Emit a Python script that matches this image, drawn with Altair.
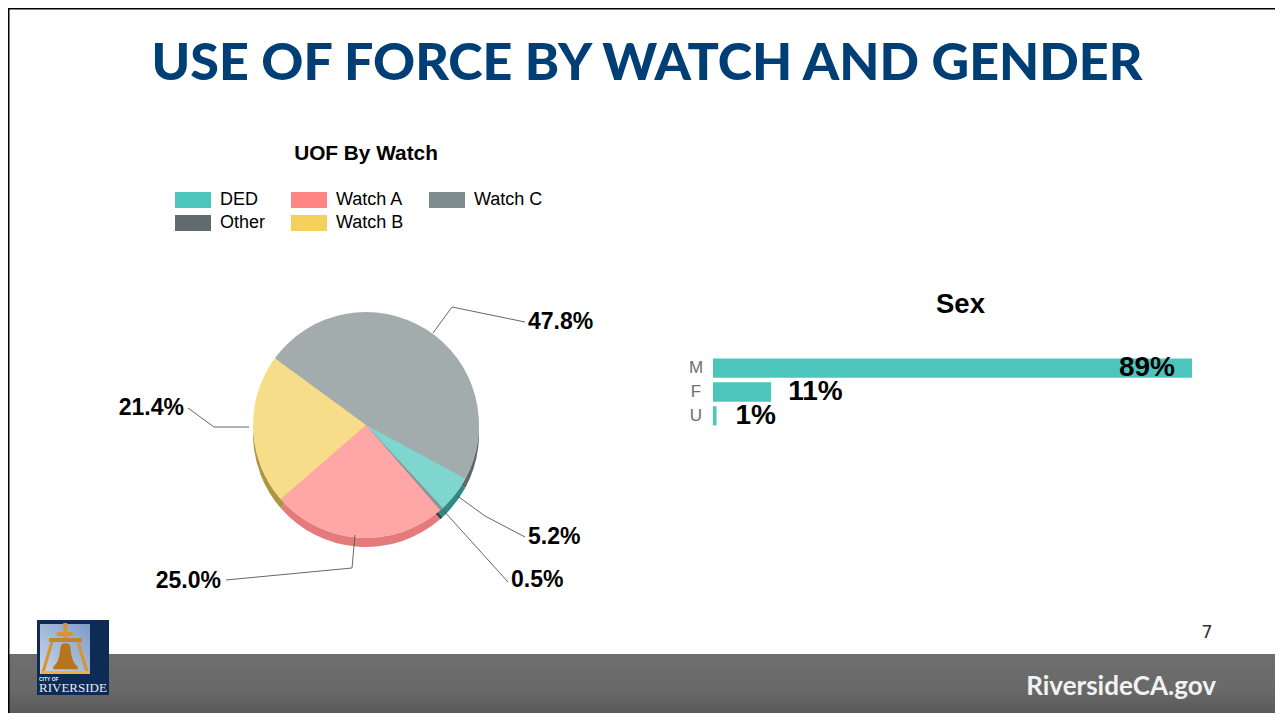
import math
import altair as alt
import pandas as pd

# ---- data ----
pie_names = ["Watch C", "DED", "Other", "Watch A", "Watch B"]
pie_values = [47.8, 5.2, 0.5, 25.0, 21.4]
pie_labels = ["47.8%", "5.2%", "0.5%", "25.0%", "21.4%"]
legend_order = ["DED", "Other", "Watch A", "Watch B", "Watch C"]
legend_colors = ["#4CC6BC", "#5F6B6D", "#FF8484", "#F4D05C", "#7F8C8D"]
depth_colors = {"Watch C": "#5F6768", "DED": "#2F8A84", "Other": "#3E4748",
                "Watch A": "#E57A7A", "Watch B": "#AD9640"}
sex_names = ["M", "F", "U"]
sex_values = [89, 10.8, 0.65]
sex_labels = ["89%", "11%", "1%"]

OX, OY = 8, 8  # page margin
one = pd.DataFrame({"k": [0]})
pie = pd.DataFrame({"name": pie_names, "value": pie_values, "ord": range(5),
                    "depth": [depth_colors[n] for n in pie_names]})
sex = pd.DataFrame({"name": sex_names, "value": sex_values, "label": sex_labels})


def px(v):
    return alt.value(v - OX)


def py(v):
    return alt.value(v - OY)


def box(x0, y0, x1, y1, color):
    return alt.Chart(one).mark_rect(color=color).encode(x=px(x0), x2=px(x1), y=py(y0), y2=py(y1))


def seg(a, b, color="#555555", w=0.9):
    return alt.Chart(one).mark_rule(color=color, strokeWidth=w).encode(
        x=px(a[0]), y=py(a[1]), x2=px(b[0]), y2=py(b[1]))


def label(t, x, y, size, font="Liberation Sans", weight="normal", color="#000000", align="left"):
    return alt.Chart(one).mark_text(text=t, font=font, fontSize=size, fontWeight=weight,
                                    color=color, align=align, baseline="middle").encode(x=px(x), y=py(y))


layers = []

# footer
footer_grad = alt.LinearGradient(gradient="linear", x1=0, x2=0, y1=0, y2=1, stops=[
    alt.GradientStop(offset=0, color="#6E6E6E"),
    alt.GradientStop(offset=0.6, color="#696969"),
    alt.GradientStop(offset=1, color="#5A5A5A")])
layers.append(alt.Chart(one).mark_rect(color=footer_grad).encode(
    x=px(8), x2=px(1275), y=py(654), y2=py(713)))
layers.append(box(8, 8, 9.5, 713, "#000000"))
layers.append(box(8, 8, 1275, 9.5, "#000000"))

# headings
layers.append(label("USE OF FORCE BY WATCH AND GENDER", 647, 64, 52, font="Lato", weight=900,
                    color="#003F75", align="center"))
layers.append(label("UOF By Watch", 366, 154, 20.8, weight="bold", align="center"))
layers.append(label("Sex", 960.5, 305, 27.5, weight="bold", align="center"))
layers.append(label("7", 1207, 633, 18, font="DejaVu Sans", color="#333333", align="center"))
layers.append(label("RiversideCA.gov", 1216, 687, 26, font="Lato", weight="bold",
                    color="#F2F2F2", align="right"))

# pie
start = math.radians(-53.8)
theta = alt.Theta("value:Q", stack=True,
                  scale=alt.Scale(domain=[0, sum(pie_values)], range=[start, start + 2 * math.pi]))
PCX, PCY, R, DEPTH = 366, 425, 113, 9
layers.append(alt.Chart(pie).mark_arc(radius=R).encode(
    theta=theta, order=alt.Order("ord:Q"), x=px(PCX), y=py(PCY + DEPTH),
    fill=alt.Fill("depth:N", scale=None)))
layers.append(alt.Chart(pie).mark_arc(radius=R, color="#FFFFFF").encode(
    theta=theta, order=alt.Order("ord:Q"), x=px(PCX), y=py(PCY)))
layers.append(alt.Chart(pie).mark_arc(radius=R, opacity=0.72).encode(
    theta=theta, order=alt.Order("ord:Q"), x=px(PCX), y=py(PCY),
    color=alt.Color("name:N", scale=alt.Scale(domain=legend_order, range=legend_colors),
                    legend=alt.Legend(orient="none", legendX=175 - OX, legendY=190 - OY, columns=3,
                                      title=None, symbolType="M-1,-0.444H1V0.444H-1Z", symbolSize=1296,
                                      symbolOpacity=1, symbolStrokeWidth=0, clipHeight=20, rowPadding=3,
                                      columnPadding=25, labelFont="Liberation Sans", labelFontSize=18,
                                      labelColor="#000000", labelOffset=9, gridAlign="each"))))

# leader lines
leaders = [
    [(433, 333), (452, 307), (525, 322)],
    [(457.5, 496), (485, 516), (525, 537)],
    [(443, 510), (508, 582)],
    [(355, 535), (352, 568), (226, 580)],
    [(249, 427), (214, 427), (188, 408)],
]
for pts in leaders:
    for a, b in zip(pts, pts[1:]):
        layers.append(seg(a, b))

pie_label_pos = [(528, 322, "left"), (528, 537, "left"), (511, 580, "left"),
                 (221, 581, "right"), (184, 408, "right")]
for t, (x, y, al) in zip(pie_labels, pie_label_pos):
    layers.append(label(t, x, y, 23, weight="bold", align=al))

# bars
xs = alt.Scale(domain=[0, 89], range=[713 - OX, 1192 - OX])
ys = alt.Scale(domain=sex_names, range=[358.5 - OY, 425.5 - OY], paddingInner=0.19, paddingOuter=0)
layers.append(alt.Chart(sex).mark_bar(color="#4CC6BC").encode(
    x=alt.X("value:Q", scale=xs, axis=None),
    y=alt.Y("name:N", scale=ys, sort=sex_names, axis=None)))
txt = alt.Chart(sex).encode(x=alt.X("value:Q", scale=xs, axis=None),
                            y=alt.Y("name:N", scale=ys, sort=sex_names, axis=None),
                            text="label:N")
layers.append(txt.transform_filter("datum.name == 'M'").mark_text(
    align="right", dx=-17, font="Liberation Sans", fontWeight="bold", fontSize=28, color="#000000"))
layers.append(txt.transform_filter("datum.name == 'F'").mark_text(
    align="left", dx=17, font="Liberation Sans", fontWeight="bold", fontSize=28, color="#000000"))
layers.append(txt.transform_filter("datum.name == 'U'").mark_text(
    align="left", dx=19, font="Liberation Sans", fontWeight="bold", fontSize=28, color="#000000"))
layers.append(alt.Chart(sex).mark_text(
    align="center", font="Liberation Sans", fontSize=17, color="#6E6E6E").encode(
    x=px(696), y=alt.Y("name:N", scale=ys, sort=sex_names, axis=None), text="name:N"))

# city logo
layers.append(box(37, 620, 109, 695, "#0D2B55"))
blue = alt.LinearGradient(gradient="linear", x1=1, x2=0, y1=0, y2=1, stops=[
    alt.GradientStop(offset=0, color="#7E9CC8"), alt.GradientStop(offset=1, color="#C9D6EA")])
layers.append(alt.Chart(one).mark_rect(color=blue).encode(x=px(40), x2=px(90), y=py(624), y2=py(674)))
GOLD = "#D9952B"
layers.append(box(63.3, 623, 67.3, 640, GOLD))
layers.append(box(57, 632, 73, 636, GOLD))
layers.append(box(49, 638, 82, 642, "#C4842A"))
layers.append(seg((52, 642), (43, 672), color=GOLD, w=3))
layers.append(seg((78, 642), (87, 672), color=GOLD, w=3))
layers.append(box(41, 671, 89, 674, "#EDB340"))
bell = "M-0.35,-1 C-0.1,-1.15 0.1,-1.15 0.35,-1 C0.5,-0.5 0.4,0.3 1,0.8 L1,1 L-1,1 L-1,0.8 C-0.4,0.3 -0.5,-0.5 -0.35,-1 Z"
layers.append(alt.Chart(one).mark_point(shape=bell, filled=True, color="#B8741C", opacity=1, size=600).encode(
    x=px(65.5), y=py(657)))
layers.append(label("CITY OF", 39, 678.5, 5, weight="bold", color="#E8EDF5"))
layers.append(label("RIVERSIDE", 39, 688, 13, font="Liberation Serif", color="#E8EDF5"))

chart = alt.layer(*layers).properties(
    width=1283 - 2 * OX, height=721 - 2 * OY, padding=0,
    autosize=alt.AutoSizeParams(type="none"),
    background="#FFFFFF",
).configure_view(stroke=None)

chart.save("out.html", embed_options={"renderer": "svg", "actions": False})
